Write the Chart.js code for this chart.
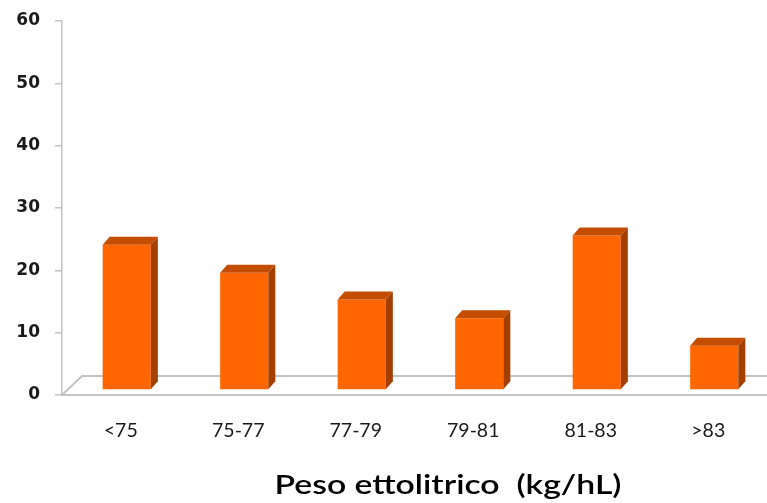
<!DOCTYPE html>
<html>
<head>
<meta charset="utf-8">
<script src="https://cdn.jsdelivr.net/npm/chart.js@4"></script>
<style>
  html, body { margin: 0; padding: 0; background: #fff; }
  #wrap { width: 767px; height: 503px; position: relative; }
</style>
</head>
<body>
<div id="wrap"><canvas id="myChart"></canvas></div>
<script>
const categories = ['<75', '75-77', '77-79', '79-81', '81-83', '>83'];
const shares = [23.3, 18.8, 14.5, 11.5, 24.8, 7.1];
const yMin = 0;
const yMax = 60;
const yStep = 10;
const axisTitle = 'Peso ettolitrico  (kg/hL)';

// fake 3D look: floor, shifted bars, top and side faces
const depthX = 7, depthY = 8;
const pseudo3d = {
  id: 'pseudo3d',
  beforeDatasetsDraw(chart) {
    const ctx = chart.ctx;
    const { left, right, bottom } = chart.chartArea;
    ctx.save();
    ctx.strokeStyle = '#c3c3c3';
    ctx.lineWidth = 2;
    ctx.beginPath();
    ctx.moveTo(left, bottom);
    ctx.lineTo(left + 20, bottom - 19);
    ctx.lineTo(right, bottom - 19);
    ctx.stroke();
    ctx.restore();
    ctx.save();
    ctx.translate(6, -5);
  },
  afterDatasetsDraw(chart) {
    const ctx = chart.ctx;
    chart.getDatasetMeta(0).data.forEach(el => {
      const { x, y, base, width } = el.getProps(['x', 'y', 'base', 'width'], true);
      const l = x - width / 2, r = x + width / 2;
      ctx.fillStyle = '#c44d00';
      ctx.beginPath();
      ctx.moveTo(l, y);
      ctx.lineTo(l + depthX, y - depthY);
      ctx.lineTo(r + depthX, y - depthY);
      ctx.lineTo(r, y);
      ctx.closePath();
      ctx.fill();
      ctx.fillStyle = '#a33f00';
      ctx.beginPath();
      ctx.moveTo(r, y);
      ctx.lineTo(r + depthX, y - depthY);
      ctx.lineTo(r + depthX, base - depthY);
      ctx.lineTo(r, base);
      ctx.closePath();
      ctx.fill();
    });
    ctx.restore();
  }
};

// axis title, stretched to the width it has in the picture
const bigTitle = {
  id: 'bigTitle',
  afterDraw(chart) {
    const ctx = chart.ctx;
    ctx.save();
    ctx.font = '600 26px Lato';
    const w = ctx.measureText(axisTitle).width;
    ctx.translate(448, 494);
    ctx.scale(347 / w, 1);
    ctx.fillStyle = '#000';
    ctx.textAlign = 'center';
    ctx.textBaseline = 'alphabetic';
    ctx.fillText(axisTitle, 0, 0);
    ctx.restore();
  }
};

const data = {
  labels: categories,
  datasets: [{
    data: shares,
    backgroundColor: '#ff6600',
    borderWidth: 0,
    barPercentage: 0.41,
    categoryPercentage: 1.0
  }]
};

const config = {
  type: 'bar',
  data: data,
  options: {
    responsive: true,
    maintainAspectRatio: false,
    animation: false,
    layout: { padding: { top: 21, right: 0, left: 0, bottom: 0 } },
    plugins: {
      legend: { display: false },
      tooltip: { enabled: false }
    },
    scales: {
      x: {
        grid: { display: false },
        border: { display: true, color: '#c3c3c3', width: 2 },
        ticks: {
          color: '#1a1a1a',
          font: { family: 'Lato', size: 19.5 },
          padding: 16,
          maxRotation: 0
        },
        afterFit(scale) { scale.height = 108; }
      },
      y: {
        min: yMin,
        max: yMax,
        grid: { drawOnChartArea: false, tickLength: 7, color: '#c3c3c3', lineWidth: 1.5 },
        border: { display: true, color: '#c3c3c3', width: 1.5 },
        ticks: {
          stepSize: yStep,
          color: '#1a1a1a',
          font: { family: 'DejaVu Sans', size: 17, weight: 'bold' },
          padding: 15
        },
        afterFit(scale) {
          scale.width = 62;
          scale.paddingTop = 0;
          scale.paddingBottom = 0;
        }
      }
    }
  },
  plugins: [pseudo3d, bigTitle]
};

Promise.all([
  document.fonts.load('19.5px Lato'),
  document.fonts.load('600 26px Lato'),
  document.fonts.load('bold 17px "DejaVu Sans"')
]).catch(() => {}).then(() => {
  new Chart(document.getElementById('myChart'), config);
});
</script>
</body>
</html>
